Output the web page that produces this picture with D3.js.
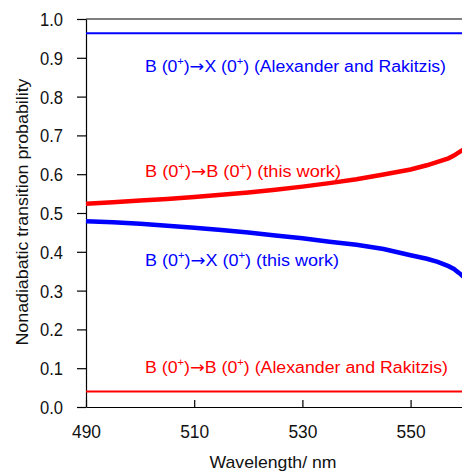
<!DOCTYPE html>
<html>
<head>
<meta charset="utf-8">
<script src="https://cdn.jsdelivr.net/npm/d3@7"></script>
<style>
  html, body { margin: 0; padding: 0; background: #fff; }
  svg { display: block; }
  text { font-family: "Liberation Sans", Arial, sans-serif; }
</style>
</head>
<body>
<svg id="chart" width="462" height="472"></svg>
<script>
// Wavelength grid (nm) on which the transition probabilities are sampled
const wavelength = [490, 495, 500, 505, 510, 515, 520, 525, 530, 535, 540, 545, 550, 553, 555, 557, 558, 559, 560];

// B(0+) -> B(0+) nonadiabatic transition probability, this work
const bbThisWork = [0.524, 0.528, 0.532, 0.536, 0.541, 0.547, 0.553, 0.560, 0.568, 0.577, 0.587, 0.599, 0.612, 0.623, 0.632, 0.641, 0.648, 0.657, 0.666];

// B(0+) -> X(0+) nonadiabatic transition probability, this work
const bxThisWork = [0.479, 0.476, 0.472, 0.467, 0.462, 0.456, 0.450, 0.442, 0.435, 0.426, 0.418, 0.407, 0.391, 0.382, 0.374, 0.363, 0.356, 0.345, 0.333];

// Constant values of Alexander and Rakitzis
const bxAlexander = 0.963;
const bbAlexander = 0.040;

// Axis ticks
const xTicks = [490, 510, 530, 550];
const yTicks = [0.0, 0.1, 0.2, 0.3, 0.4, 0.5, 0.6, 0.7, 0.8, 0.9, 1.0];

const svg = d3.select("#chart");
const margin = { left: 86, top: 19 };
const width = 378.7, height = 388;

const x = d3.scaleLinear().domain([490, 560]).range([margin.left, margin.left + width]);
const y = d3.scaleLinear().domain([0, 1]).range([margin.top + height, margin.top]);

const BLUE = "#0000ff", RED = "#ff0000";

// Top frame line
svg.append("line")
  .attr("x1", x(490)).attr("x2", x(560))
  .attr("y1", y(1)).attr("y2", y(1))
  .attr("stroke", "#000").attr("stroke-width", 1.2);

// Y axis (ticks outward)
const yAxis = svg.append("g")
  .attr("transform", `translate(${margin.left},0)`)
  .call(d3.axisLeft(y).tickValues(yTicks).tickFormat(d3.format(".1f"))
        .tickSizeInner(9).tickSizeOuter(0).tickPadding(14));
yAxis.selectAll("path, line").attr("stroke", "#000").attr("stroke-width", 1.2);
yAxis.selectAll("text").attr("font-size", 18).attr("fill", "#111")
  .attr("dy", "0.36em").attr("textLength", 23).attr("lengthAdjust", "spacingAndGlyphs");

// X axis (ticks inward)
const xAxis = svg.append("g")
  .attr("transform", `translate(0,${margin.top + height})`)
  .call(d3.axisBottom(x).tickValues(xTicks).tickFormat(d3.format("d"))
        .tickSizeInner(-7).tickSizeOuter(0).tickPadding(18));
xAxis.selectAll("path, line").attr("stroke", "#000").attr("stroke-width", 1.2);
xAxis.selectAll("text").attr("font-size", 18).attr("fill", "#111")
  .attr("textLength", 29).attr("lengthAdjust", "spacingAndGlyphs");

// Axis titles
svg.append("text")
  .attr("x", 273).attr("y", 468)
  .attr("text-anchor", "middle")
  .attr("font-size", 17).attr("fill", "#111")
  .attr("textLength", 127).attr("lengthAdjust", "spacingAndGlyphs")
  .text("Wavelength/ nm");

svg.append("text")
  .attr("transform", "translate(28,212) rotate(-90)")
  .attr("text-anchor", "middle")
  .attr("font-size", 17).attr("fill", "#111")
  .attr("textLength", 267).attr("lengthAdjust", "spacingAndGlyphs")
  .text("Nonadiabatic transition probability");

// Constant reference lines
svg.append("line")
  .attr("x1", x(490)).attr("x2", x(560))
  .attr("y1", y(bxAlexander)).attr("y2", y(bxAlexander))
  .attr("stroke", BLUE).attr("stroke-width", 2);
svg.append("line")
  .attr("x1", x(490)).attr("x2", x(560))
  .attr("y1", y(bbAlexander)).attr("y2", y(bbAlexander))
  .attr("stroke", RED).attr("stroke-width", 2);

// Computed curves
const line = d3.line().x(d => x(d[0])).y(d => y(d[1]));
svg.append("path")
  .datum(wavelength.map((w, i) => [w, bbThisWork[i]]))
  .attr("d", line).attr("fill", "none")
  .attr("stroke", RED).attr("stroke-width", 4.5);
svg.append("path")
  .datum(wavelength.map((w, i) => [w, bxThisWork[i]]))
  .attr("d", line).attr("fill", "none")
  .attr("stroke", BLUE).attr("stroke-width", 4.5);

// Curve labels: "B (0+)→Y (0+) (source)"
function label(yPos, final, source, color, len) {
  const t = svg.append("text")
    .attr("x", 145).attr("y", yPos)
    .attr("font-size", 16).attr("fill", color)
    .attr("textLength", len).attr("lengthAdjust", "spacingAndGlyphs");
  t.append("tspan").text("B (0");
  t.append("tspan").attr("font-size", 10).attr("dy", -7).text("+");
  t.append("tspan").attr("dy", 7).text(")");
  t.append("tspan").attr("font-family", "DejaVu Sans").text("\u2192");
  t.append("tspan").text(final + " (0");
  t.append("tspan").attr("font-size", 10).attr("dy", -7).text("+");
  t.append("tspan").attr("dy", 7).text(")  (" + source + ")");
}
label(72, "X", "Alexander and Rakitzis", BLUE, 301);
label(176.5, "B", "this work", RED, 196);
label(266, "X", "this work", BLUE, 194);
label(372.5, "B", "Alexander and Rakitzis", RED, 303);
</script>
</body>
</html>
